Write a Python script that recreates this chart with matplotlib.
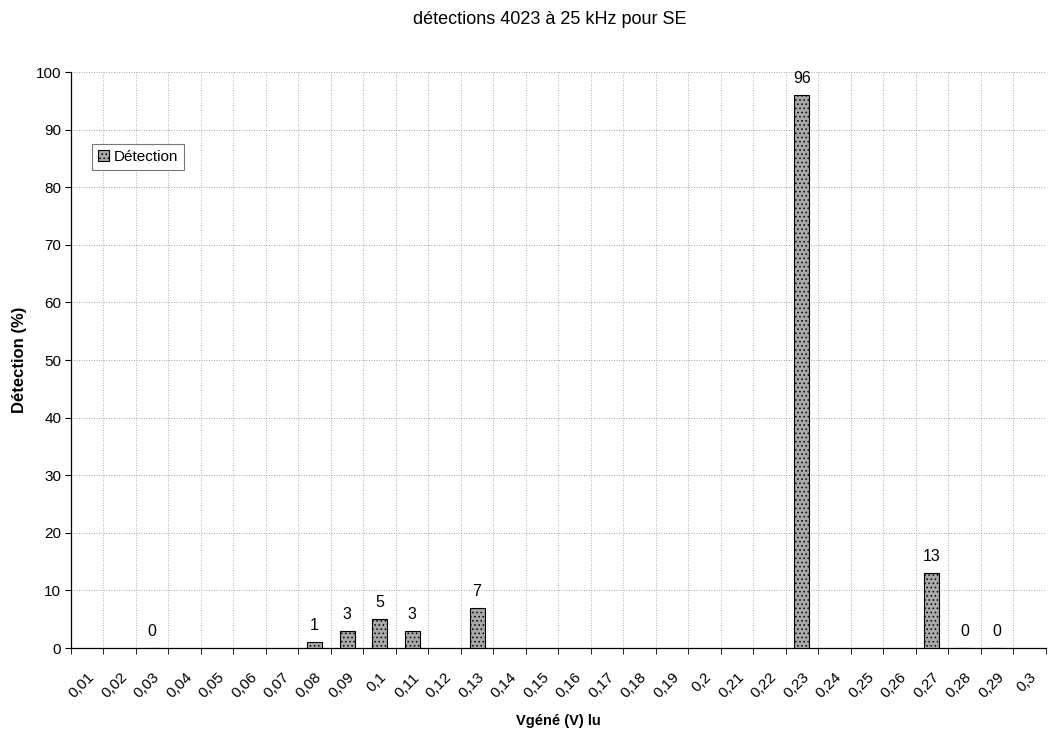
"""Détections 4023 à 25 kHz pour SE — histogramme style Excel."""

import matplotlib
matplotlib.use("Agg")
import matplotlib.pyplot as plt
import matplotlib.transforms as mtransforms
import numpy as np

plt.rcParams["font.family"] = ["Liberation Sans", "DejaVu Sans"]
plt.rcParams["hatch.linewidth"] = 0.6
plt.rcParams["hatch.color"] = "#555555"

# Catégories de l'axe X (tension générée, V)
categories = ["0,01", "0,02", "0,03", "0,04", "0,05", "0,06", "0,07", "0,08",
              "0,09", "0,1", "0,11", "0,12", "0,13", "0,14", "0,15", "0,16",
              "0,17", "0,18", "0,19", "0,2", "0,21", "0,22", "0,23", "0,24",
              "0,25", "0,26", "0,27", "0,28", "0,29", "0,3"]
# Détection (%) ; None = pas de mesure
detection = [None, None, 0, None, None, None, None, 1,
             3, 5, 3, None, 7, None, None, None,
             None, None, None, None, None, None, 96, None,
             None, None, 13, 0, 0, None]

fig = plt.figure(figsize=(10.48, 7.31), dpi=100)
ax = fig.add_axes([0.0677, 0.1135, 0.930, 0.788])

x = np.arange(len(categories))
idx = [i for i, v in enumerate(detection) if v is not None]
vals = [detection[i] for i in idx]

ax.bar(idx, vals, width=0.46, color="#a8a8a8", edgecolor="black",
       linewidth=0.8, hatch="....", label="Détection", zorder=3)
for i, v in zip(idx, vals):
    ax.annotate(f"{v}", (i, v), xytext=(0, 6.5), textcoords="offset points",
                ha="center", va="bottom", fontsize=11.5)

ax.set_xlim(-0.5, len(categories) - 0.5)
ax.set_ylim(0, 100)
ax.set_yticks(np.arange(0, 101, 10))
ax.set_xticks(x)
ax.set_xticklabels(categories, rotation=45, ha="right", va="top",
                   rotation_mode="anchor", fontsize=11)
shift = mtransforms.ScaledTranslation(-4 / 100, 0, fig.dpi_scale_trans)
for lab in ax.get_xticklabels():
    lab.set_transform(lab.get_transform() + shift)
ax.set_xticks(np.arange(-0.5, len(categories), 1), minor=True)
ax.tick_params(axis="x", which="major", length=0, pad=16)
ax.tick_params(axis="x", which="minor", length=4, direction="out", width=0.6)
ax.tick_params(axis="y", length=4, width=0.8, labelsize=11, pad=3)

ax.grid(True, axis="y", which="major", color="#888888",
        linestyle=(0, (1, 2)), linewidth=0.6, zorder=0)
ax.grid(True, axis="x", which="minor", color="#999999",
        linestyle=(0, (1, 2)), linewidth=0.6, zorder=0)
ax.spines[["top", "right"]].set_visible(False)
ax.spines["left"].set_linewidth(0.9)
ax.spines["bottom"].set_linewidth(0.9)

ax.set_ylabel("Détection (%)", fontsize=12, fontweight="bold", labelpad=6)
ax.set_xlabel("Vgéné (V) lu", fontsize=10.5, fontweight="bold", labelpad=9)
fig.text(0.525, 0.974, "détections 4023 à 25 kHz pour SE", ha="center",
         va="center", fontsize=13)

leg = ax.legend(loc="upper left", bbox_to_anchor=(0.0215, 0.875),
                fontsize=11, frameon=True, fancybox=False, handlelength=0.7,
                handleheight=0.7, handletextpad=0.3, borderpad=0.4,
                borderaxespad=0)
leg.get_frame().set_edgecolor("#555555")
leg.get_frame().set_linewidth(0.8)

fig.savefig("out.png", dpi=100)
